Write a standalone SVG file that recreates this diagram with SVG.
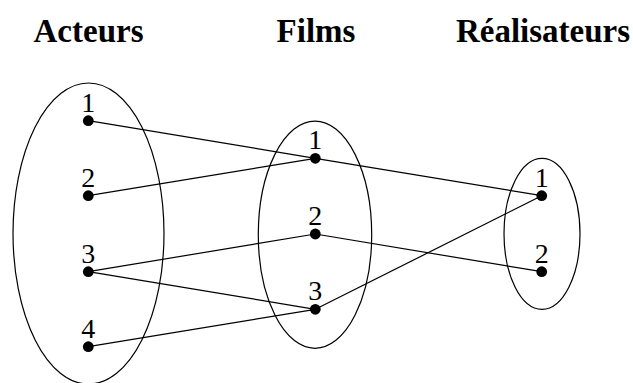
<svg xmlns="http://www.w3.org/2000/svg" width="633" height="383" viewBox="0 0 633 383">
<style>
.hdr{font-family:"Liberation Serif","DejaVu Serif",serif;font-weight:bold;font-size:33px;text-anchor:middle;fill:#000}
.lbl{font-family:"Liberation Serif","DejaVu Serif",serif;font-size:28px;text-anchor:middle;fill:#000}
.set{fill:none;stroke:#000;stroke-width:1.2}
.dot{fill:#000}
.edge{stroke:#000;stroke-width:1.2;fill:none}
</style>
<rect width="633" height="383" fill="#fff"/>
<text class="hdr" x="88.5" y="41.5">Acteurs</text>
<text class="hdr" x="316" y="41.5">Films</text>
<text class="hdr" x="543" y="41.5">Réalisateurs</text>
<g id="sets">
<ellipse class="set" cx="88.5" cy="233.5" rx="75.5" ry="150.5"/>
<ellipse class="set" cx="315" cy="234.7" rx="56.7" ry="113.6"/>
<ellipse class="set" cx="542" cy="233.8" rx="38" ry="75.5"/>
</g>
<g id="edges">
<line class="edge" x1="88.3" y1="120.7" x2="315.3" y2="158.3"/>
<line class="edge" x1="88.3" y1="195.7" x2="315.3" y2="158.3"/>
<line class="edge" x1="88.3" y1="271.7" x2="315.3" y2="234"/>
<line class="edge" x1="88.3" y1="271.7" x2="315.3" y2="309.3"/>
<line class="edge" x1="88.3" y1="346.7" x2="315.3" y2="309.3"/>
<line class="edge" x1="315.3" y1="158.3" x2="541.7" y2="195.7"/>
<line class="edge" x1="315.3" y1="234" x2="541.7" y2="271.7"/>
<line class="edge" x1="315.3" y1="309.3" x2="541.7" y2="195.7"/>
</g>
<g id="a1"><circle class="dot" cx="88.3" cy="120.7" r="5.4"/><text class="lbl" x="88.3" y="111.5">1</text></g>
<g id="a2"><circle class="dot" cx="88.3" cy="195.7" r="5.4"/><text class="lbl" x="88.3" y="186.5">2</text></g>
<g id="a3"><circle class="dot" cx="88.3" cy="271.7" r="5.4"/><text class="lbl" x="88.3" y="262.5">3</text></g>
<g id="a4"><circle class="dot" cx="88.3" cy="346.7" r="5.4"/><text class="lbl" x="88.3" y="337.5">4</text></g>
<g id="f1"><circle class="dot" cx="315.3" cy="158.3" r="5.4"/><text class="lbl" x="315.3" y="149">1</text></g>
<g id="f2"><circle class="dot" cx="315.3" cy="234" r="5.4"/><text class="lbl" x="315.3" y="224.8">2</text></g>
<g id="f3"><circle class="dot" cx="315.3" cy="309.3" r="5.4"/><text class="lbl" x="315.3" y="300">3</text></g>
<g id="r1"><circle class="dot" cx="541.7" cy="195.7" r="5.4"/><text class="lbl" x="541.7" y="186.5">1</text></g>
<g id="r2"><circle class="dot" cx="541.7" cy="271.7" r="5.4"/><text class="lbl" x="541.7" y="262.5">2</text></g>
</svg>
